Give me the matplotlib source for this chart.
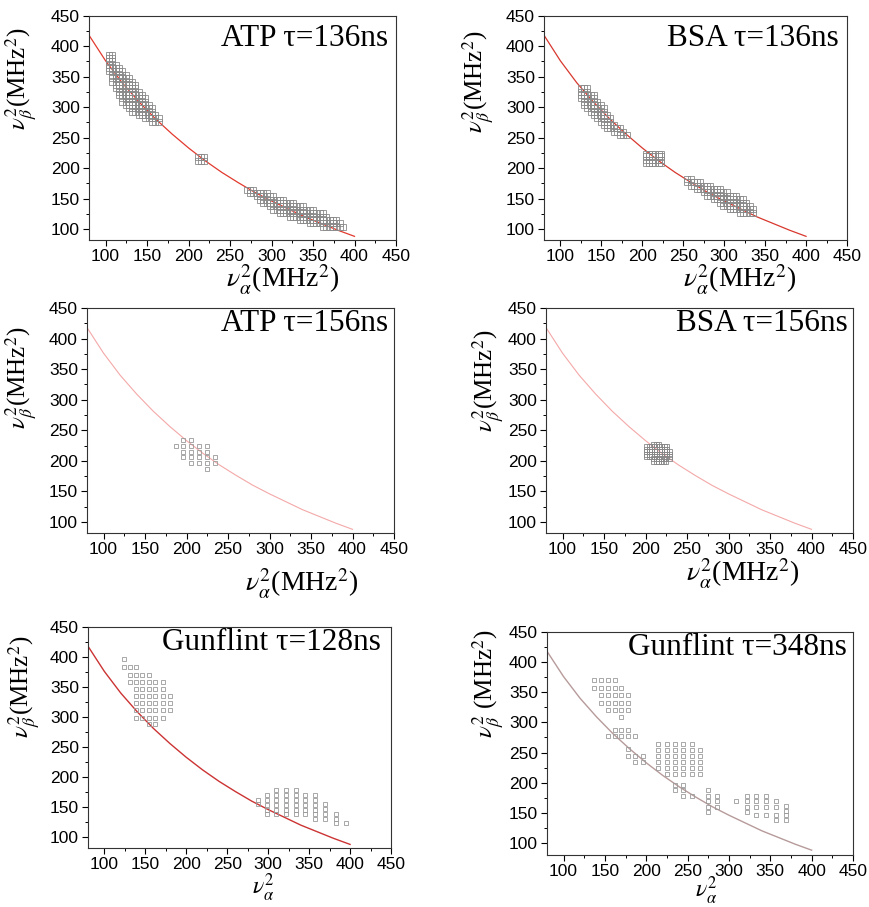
import numpy as np
import matplotlib.pyplot as plt
from matplotlib.ticker import MultipleLocator

plt.rcParams['font.family'] = 'Liberation Sans'
plt.rcParams['mathtext.fontset'] = 'stix'

# curve nu_beta^2 vs nu_alpha^2
curve_x = [80, 100, 120, 140, 160, 180, 200, 220, 240, 260, 280, 300, 320, 340, 360, 380, 400]
curve_y = [418, 376, 340, 309, 281, 256, 233, 212, 193, 176, 160, 146, 133, 120, 109, 98, 88]

# ATP tau=136ns : rows (y, [x...]) and columns (x, [y...])
atp136_rows = [
    (386, [104, 108]), (380.5, [104, 108]), (375, [104, 108]), (369.5, [104, 108, 112]),
    (364, [104, 108, 112, 116]), (358.5, [104, 108, 112, 116, 120]),
    (353, [108, 112, 116, 120, 124]), (347.5, [108, 112, 116, 120, 124, 128]),
    (342, [108, 112, 116, 120, 124, 128, 132]), (336.5, [112, 116, 120, 124, 128, 132, 136]),
    (331, [112, 116, 120, 124, 128, 132, 136]), (325.5, [116, 120, 124, 128, 132, 136, 140]),
    (320, [116, 120, 124, 128, 132, 136, 140, 144]),
    (314.5, [120, 124, 128, 132, 136, 140, 144, 148]),
    (309, [120, 124, 128, 132, 136, 140, 144, 148]),
    (303.5, [124, 128, 132, 136, 140, 144, 148, 152]),
    (298, [128, 132, 136, 140, 144, 148, 152, 156]),
    (292.5, [132, 136, 140, 144, 148, 152, 156]), (287, [140, 144, 148, 152, 156, 160]),
    (281.5, [148, 152, 156, 160, 164]), (276, [156, 160, 164]),
    (217.5, [211, 215, 219]), (212, [211, 215, 219]),
]
atp136_cols = [
    (270, [164.5]), (274, [164.5, 159]), (278, [164.5, 159]), (282, [159, 153.5]),
    (286, [159, 153.5, 148]), (290, [159, 153.5, 148, 142.5]), (294, [159, 153.5, 148, 142.5]),
    (298, [153.5, 148, 142.5, 137]), (302, [153.5, 148, 142.5, 137, 131.5]),
    (306, [148, 142.5, 137, 131.5]), (310, [148, 142.5, 137, 131.5, 126]),
    (314, [148, 142.5, 137, 131.5, 126]), (318, [142.5, 137, 131.5, 126]),
    (322, [142.5, 137, 131.5, 126, 120.5]), (326, [142.5, 137, 131.5, 126, 120.5]),
    (330, [137, 131.5, 126, 120.5]), (334, [137, 131.5, 126, 120.5, 115]),
    (338, [137, 131.5, 126, 120.5, 115]), (342, [131.5, 126, 120.5, 115]),
    (346, [131.5, 126, 120.5, 115, 109.5]), (350, [131.5, 126, 120.5, 115, 109.5]),
    (354, [126, 120.5, 115, 109.5]), (358, [126, 120.5, 115, 109.5]),
    (362, [126, 120.5, 115, 109.5, 104]), (366, [120.5, 115, 109.5, 104]),
    (370, [115, 109.5, 104]), (374, [115, 109.5, 104]), (378, [115, 109.5, 104]),
    (382, [109.5, 104]), (386, [104]),
]

# BSA tau=136ns
bsa136_rows = [
    (331, [125, 129, 133]), (325.5, [125, 129, 133]), (320, [125, 129, 133, 137, 141]),
    (314.5, [125, 129, 133, 137, 141]), (309, [129, 133, 137, 141, 145]),
    (303.5, [129, 133, 137, 141, 145, 149]), (298, [133, 137, 141, 145, 149, 153]),
    (292.5, [137, 141, 145, 149, 153]), (287, [141, 145, 149, 153, 157]),
    (281.5, [145, 149, 153, 157, 161]), (276, [149, 153, 157, 161]),
    (270.5, [153, 157, 161, 165]), (265, [157, 161, 165, 169, 173]),
    (259.5, [165, 169, 173, 177]), (254, [173, 177, 181]),
    (223.5, [204, 208, 212, 216, 220, 223]), (219.5, [204, 208, 212, 216, 220, 223]),
    (214, [204, 208, 212, 216, 220, 223]), (208.5, [204, 208, 212, 216, 220, 223]),
]
bsa136_cols = [
    (255, [182, 176.5]), (259, [182, 176.5, 171]), (263, [176.5, 171]),
    (267, [176.5, 171, 165.5]), (271, [176.5, 171, 165.5]), (275, [171, 165.5, 160]),
    (279, [171, 165.5, 160, 154.5]), (283, [171, 165.5, 160, 154.5]),
    (287, [165.5, 160, 154.5, 149]), (291, [165.5, 160, 154.5, 149]),
    (295, [165.5, 160, 154.5, 149, 143.5]), (299, [160, 154.5, 149, 143.5, 138]),
    (303, [160, 154.5, 149, 143.5, 138]), (307, [154.5, 149, 143.5, 138, 132.5]),
    (311, [154.5, 149, 143.5, 138, 132.5]), (315, [154.5, 149, 143.5, 138, 132.5]),
    (319, [149, 143.5, 138, 132.5, 127]), (323, [149, 143.5, 138, 132.5, 127]),
    (327, [143.5, 138, 132.5, 127]), (331, [138, 132.5, 127]), (335, [132.5, 127]),
]

# ATP tau=156ns
atp156_rows = [
    (234.8, [195.7, 205.3]),
    (224.9, [186.9, 195.7, 205.3, 214.9, 224.9]),
    (215.1, [195.7, 205.3, 214.9, 224.9]),
    (205.7, [195.7, 205.3, 214.9, 224.9, 234.5]),
    (196.4, [205.3, 214.9, 224.9, 234.5]),
    (187.1, [224.9]),
]

# BSA tau=156ns
bsa156_rows = [
    (228, [209, 212, 215]),
    (224, [201, 204, 207, 210, 213, 216, 219, 222, 225]),
    (220, [201, 204, 207, 210, 213, 216, 219, 222, 225]),
    (216, [201, 204, 207, 210, 213, 216, 219, 222, 225, 228]),
    (212, [201, 204, 207, 210, 213, 216, 219, 222, 225, 228]),
    (208, [201, 204, 207, 210, 213, 216, 219, 222, 225, 228]),
    (204, [209, 212, 215, 218, 221, 224, 228]),
    (200, [209, 212, 215, 218, 221, 224]),
]

# Gunflint tau=128ns
gun128_rows = [
    (395.9, [124.3]), (383.0, [124.3, 131.6, 138.9]),
    (370.2, [131.6, 138.9, 146.2, 153.9]),
    (357.9, [131.6, 138.9, 146.2, 153.9, 161.6, 171.3]),
    (346.8, [138.9, 146.2, 153.9, 161.6, 171.3]),
    (334.5, [138.9, 146.2, 153.9, 161.6, 171.3, 179.8]),
    (323.3, [138.9, 146.2, 153.9, 161.6, 171.3, 179.8]),
    (311.6, [138.9, 146.2, 153.9, 161.6, 171.3, 179.8]),
    (299.3, [138.9, 146.2, 153.9, 161.6, 171.3]),
    (288.2, [153.9, 161.6]),
]
gun128_cols = [
    (288.0, [162.6, 154.8]),
    (298.1, [171.0, 162.6, 154.3, 146.0, 138.6]),
    (309.9, [179.3, 171.0, 162.6, 154.3, 146.0, 138.6]),
    (321.6, [179.3, 171.0, 162.6, 154.3, 146.0, 138.6]),
    (333.4, [179.3, 171.0, 162.6, 154.3, 146.0, 138.6]),
    (345.1, [171.0, 162.6, 154.3, 146.0, 138.6]),
    (357.3, [171.0, 162.6, 154.3, 146.0, 138.6, 130.8]),
    (369.5, [154.8, 147.0, 138.6, 130.8]),
    (382.8, [139.2, 130.8, 123.5]),
    (395.0, [123.5]),
]

# Gunflint tau=348ns
gun348_rows = [
    (369.8, [136.8, 145.7, 153.8, 161.8]),
    (357.6, [136.8, 145.7, 153.8, 161.8, 169.9]),
    (344.9, [145.7, 153.8, 161.8, 169.9, 178.4]),
    (332.7, [145.7, 153.8, 161.8, 169.9, 178.4]),
    (321.1, [153.8, 161.8, 169.9, 178.4]),
    (309.5, [169.9]),
    (286.8, [161.8, 169.9, 178.4]),
    (276.9, [153.8, 161.8, 169.9, 178.4, 186.9]),
    (255.3, [178.4]),
    (244.8, [178.4, 186.9, 196.2]),
    (234.3, [186.9, 196.2]),
    (264.7, [214.4, 224.5, 234.6, 244.7, 254.8]),
    (254.8, [214.4, 224.5, 234.6, 244.7, 254.8, 264.9]),
    (244.8, [214.4, 224.5, 234.6, 244.7, 254.8, 264.9]),
    (234.8, [214.4, 224.5, 234.6, 244.7, 254.8, 264.9]),
    (224.9, [214.4, 224.5, 234.6, 244.7, 254.8, 264.9]),
    (214.9, [224.5, 234.6, 244.7, 254.8, 264.9]),
    (196.7, [234.6, 244.7]),
    (187.3, [234.6, 244.7]),
    (177.9, [244.7, 254.8]),
]
gun348_cols = [
    (275.0, [187.3, 177.9, 169.0, 159.6, 151.3]),
    (286.0, [177.9, 169.0, 159.6]),
    (309.0, [169.0]),
    (321.5, [177.9, 169.0, 159.6, 151.3]),
    (332.4, [177.9, 169.0, 159.6, 145.8]),
    (344.5, [177.9, 169.0, 159.6, 145.8]),
    (356.3, [169.0, 159.6, 145.8, 137.5]),
    (369.2, [160.7, 152.9, 145.8, 137.5]),
]

titles = ["ATP τ=136ns", "BSA τ=136ns", "ATP τ=156ns", "BSA τ=156ns",
          "Gunflint τ=128ns", "Gunflint τ=348ns"]


def flatten(rows, cols):
    xs, ys = [], []
    for y, xl in rows:
        for x in xl:
            xs.append(x)
            ys.append(y)
    for x, yl in cols:
        for y in yl:
            xs.append(x)
            ys.append(y)
    return xs, ys


W, H = 869, 907
# axes boxes in pixels: left, right, top, bottom
boxes = [(89, 396, 15.7, 240), (544, 847, 15.7, 240),
         (87, 394, 308, 533), (546, 853, 308, 533),
         (88, 391, 627, 848), (547, 853, 632, 855)]
panel_points = [flatten(atp136_rows, atp136_cols), flatten(bsa136_rows, bsa136_cols),
                flatten(atp156_rows, []), flatten(bsa156_rows, []),
                flatten(gun128_rows, gun128_cols), flatten(gun348_rows, gun348_cols)]
curve_colors = ['#e23a2e', '#d8382e', '#f4a8a8', '#f4a8a8', '#cc3333', '#b79a9a']
curve_widths = [0.9, 0.9, 0.8, 0.8, 1.0, 1.0]
marker_sizes = [4.8, 4.8, 2.9, 3.6, 3.0, 3.0]
edge_colors = ['#8a8a8a', '#8a8a8a', '#999999', '#888888', '#9a9a9a', '#9a9a9a']
xlabels = [r"$\nu_\alpha^2$(MHz$^2$)"] * 4 + [r"$\nu_\alpha^2$"] * 2
xlabel_sizes = [20, 20, 20, 20, 17, 17]
ylabels = [r"$\nu_\beta^2$(MHz$^2$)"] * 5 + [r"$\nu_\beta^2$ (MHz$^2$)"]
xlabel_pos = [(0.63, -0.10), (0.647, -0.10), (0.70, -0.15), (0.64, -0.105), (0.58, -0.106), (0.52, -0.088)]
ylabel_pos = [(-0.16, 0.72), (-0.155, 0.705), (-0.153, 0.69), (-0.127, 0.675), (-0.15, 0.73), (-0.13, 0.77)]
title_pos = [(0.974, 0.965), (0.974, 0.965), (0.98, 0.995), (0.984, 0.995), (0.967, 0.995), (0.98, 0.995)]

fig = plt.figure(figsize=(W / 100, H / 100), dpi=100)

for i in range(6):
    l, r, t, b = boxes[i]
    ax = fig.add_axes([l / W, (H - b) / H, (r - l) / W, (b - t) / H])
    ax.plot(curve_x, curve_y, color=curve_colors[i], lw=curve_widths[i], zorder=1)
    xs, ys = panel_points[i]
    ax.plot(xs, ys, linestyle='none', marker='s', markersize=marker_sizes[i],
            markerfacecolor='none', markeredgecolor=edge_colors[i], markeredgewidth=0.6, zorder=2)

    ax.set_xlim(80, 450)
    ax.set_ylim(80 if i == 5 else 82, 450)
    ax.xaxis.set_minor_locator(MultipleLocator(25))
    ax.yaxis.set_minor_locator(MultipleLocator(25))
    ax.set_xticks(np.arange(100, 451, 50))
    ax.set_yticks(np.arange(100, 451, 50))
    ax.tick_params(which='major', direction='out', length=4, width=0.8, labelsize=12.5, pad=2.5)
    ax.tick_params(which='minor', direction='out', length=2.5, width=0.7)
    for s in ax.spines.values():
        s.set_linewidth(0.8)
        s.set_color('#333333')

    ax.set_xlabel(xlabels[i], fontsize=xlabel_sizes[i], family='Liberation Serif')
    ax.xaxis.set_label_coords(*xlabel_pos[i])
    ax.set_ylabel(ylabels[i], fontsize=18, family='Liberation Serif')
    ax.yaxis.set_label_coords(*ylabel_pos[i])

    ax.text(title_pos[i][0], title_pos[i][1], titles[i], transform=ax.transAxes,
            ha='right', va='top', fontsize=22.5, family='Liberation Serif')

fig.savefig('out.png', dpi=100)
